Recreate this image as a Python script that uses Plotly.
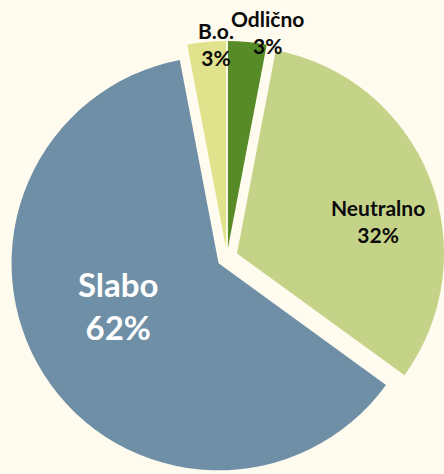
import numpy as np
import plotly.graph_objects as go

# ---- data ----
labels = ["Odlično", "Neutralno", "Slabo", "B.o."]
values = [3, 32, 62, 3]
colors = ["#568B27", "#C5D389", "#6E8FA6", "#E1E28C"]

# ---- layout / style ----
W, H = 444, 474
CX, CY, R = 227, 258, 207          # pie centre & radius (px)
pulls_px = [10, 12, 10, 10]        # explode distance per slice (px)
label_pos = [(267, 32), (378, 221), (119, 305), (216, 44)]   # label centres (px)
label_size = [21, 21, 33, 21]
label_color = ["#0A0A0A", "#0A0A0A", "#FFFFFF", "#0A0A0A"]

fracs = np.array(values, dtype=float) / sum(values)
ends = np.cumsum(fracs) * 360
starts = ends - fracs * 360
mids = (starts + ends) / 2

fig = go.Figure()
for i, lab in enumerate(labels):
    th = np.radians(mids[i])
    cx = CX + pulls_px[i] * np.sin(th)
    cy = CY - pulls_px[i] * np.cos(th)
    cx = min(max(cx, R), W - R)
    cy = min(max(cy, R), H - R)
    dom_x = [(cx - R) / W, (cx + R) / W]
    dom_y = [1 - (cy + R) / H, 1 - (cy - R) / H]
    fig.add_trace(go.Pie(
        labels=labels, values=values, sort=False, direction="clockwise", rotation=0,
        marker=dict(colors=[colors[j] if j == i else "rgba(0,0,0,0)" for j in range(len(labels))],
                    line=dict(width=0)),
        textinfo="none", hoverinfo="skip", showlegend=False,
        domain=dict(x=dom_x, y=dom_y),
    ))

pct = np.round(fracs * 100).astype(int)
for i, lab in enumerate(labels):
    px, py = label_pos[i]
    fig.add_annotation(
        x=px / W, y=1 - py / H, xref="paper", yref="paper",
        text=f"{lab}<br>{pct[i]}%", showarrow=False,
        xanchor="center", yanchor="middle",
        font=dict(family="Lato", size=label_size[i], color=label_color[i], weight="bold"),
    )

fig.update_layout(
    width=W, height=H,
    margin=dict(l=0, r=0, t=0, b=0),
    paper_bgcolor="#FFFBEE", plot_bgcolor="#FFFBEE",
)
fig.write_html("out.html")
